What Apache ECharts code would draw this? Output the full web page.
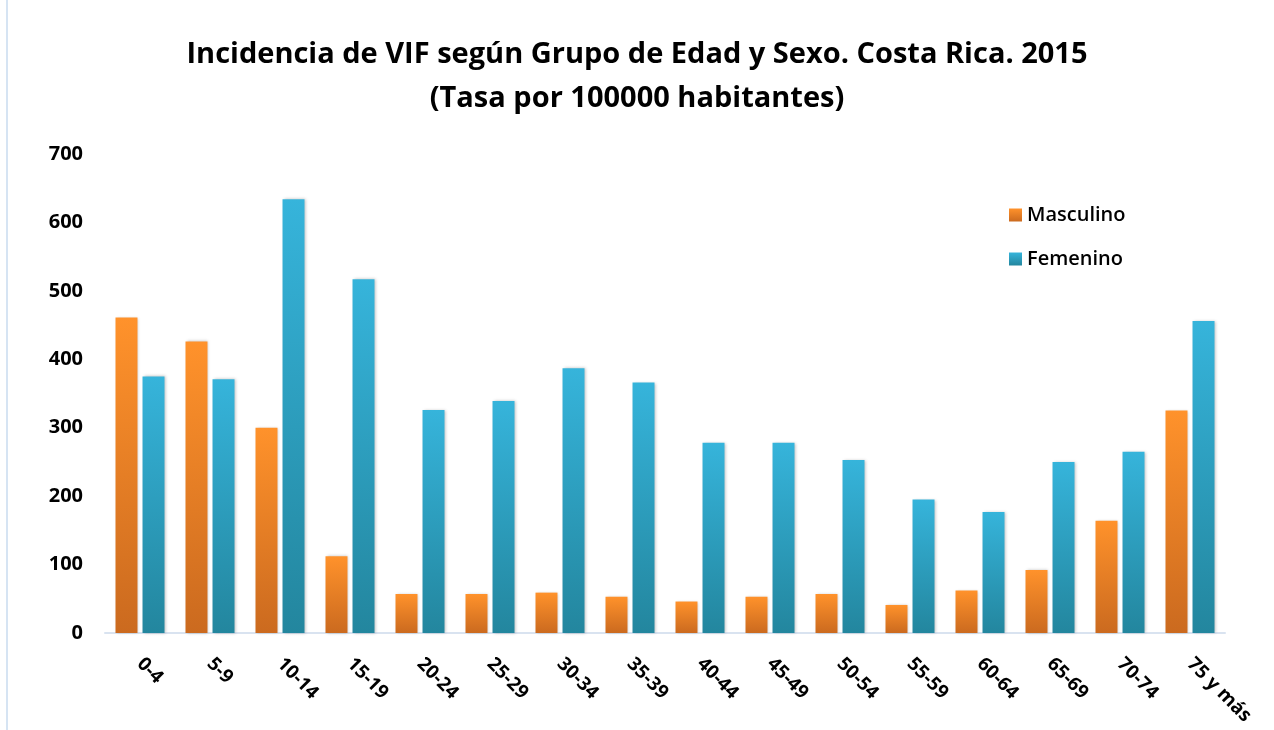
<!DOCTYPE html>
<html>
<head>
<meta charset="utf-8">
<script src="https://cdn.jsdelivr.net/npm/echarts@6/dist/echarts.min.js"></script>
<style>
  html, body { margin: 0; padding: 0; background: #fff; }
  #chart { position: absolute; left: 0; top: 0; width: 1274px; height: 730px; }
  #frame { position: absolute; left: 6px; top: 0; width: 2px; height: 730px; background: #d6e4f3; }
</style>
</head>
<body>
<div id="chart"></div>
<div id="frame"></div>
<script>
// grupos de edad
const categories = ["0-4", "5-9", "10-14", "15-19", "20-24", "25-29", "30-34", "35-39",
  "40-44", "45-49", "50-54", "55-59", "60-64", "65-69", "70-74", "75 y más"];
// tasas por 100000 habitantes
const masculino = [461, 426, 300, 112, 57, 57, 59, 53, 46, 53, 57, 41, 62, 92, 164, 325];
const femenino = [375, 371, 634, 517, 326, 339, 387, 366, 278, 278, 253, 195, 177, 250, 265, 456];
const yTicks = [0, 100, 200, 300, 400, 500, 600, 700];

const font = "Open Sans";

function gradient(top, bottom) {
  return new echarts.graphic.LinearGradient(0, 0, 0, 1, [
    { offset: 0, color: top },
    { offset: 1, color: bottom }
  ]);
}

const chart = echarts.init(document.getElementById("chart"));

const option = {
  backgroundColor: "#ffffff",
  animation: false,
  textStyle: { fontFamily: font },
  title: {
    text: "Incidencia de VIF según Grupo de Edad y Sexo. Costa Rica. 2015\n(Tasa por 100000 habitantes)",
    left: "center",
    top: 28,
    textStyle: {
      fontFamily: font,
      fontSize: 29,
      fontWeight: "bold",
      color: "#000",
      lineHeight: 44
    }
  },
  legend: {
    orient: "vertical",
    left: 1004,
    top: 200,
    itemWidth: 13,
    itemHeight: 13,
    itemGap: 24,
    icon: "rect",
    textStyle: { fontFamily: font, fontSize: 20, fontWeight: 600, color: "#000" },
    data: ["Masculino", "Femenino"]
  },
  grid: { left: 105, right: 49, top: 154, bottom: 97, containLabel: false },
  xAxis: {
    type: "category",
    data: categories,
    axisLine: { lineStyle: { color: "#d9e3f0", width: 2 } },
    axisTick: { show: false },
    axisLabel: {
      rotate: -45,
      align: "left",
      verticalAlign: "middle",
      margin: 28,
      interval: 0,
      fontFamily: font,
      fontSize: 19,
      fontWeight: "bold",
      color: "#000"
    }
  },
  yAxis: {
    type: "value",
    min: yTicks[0],
    max: yTicks[yTicks.length - 1],
    interval: 100,
    splitLine: { show: false },
    axisLine: { show: false },
    axisTick: { show: false },
    axisLabel: {
      margin: 22,
      fontFamily: font,
      fontSize: 20,
      fontWeight: "bold",
      color: "#000"
    }
  },
  series: [
    {
      name: "Masculino",
      type: "bar",
      data: masculino,
      barGap: "23%",
      barCategoryGap: "30%",
      itemStyle: {
        color: gradient("#ff922b", "#cb6a1f"),
        shadowColor: "rgba(0,0,0,0.25)",
        shadowBlur: 3,
        shadowOffsetX: 1
      }
    },
    {
      name: "Femenino",
      type: "bar",
      data: femenino,
      itemStyle: {
        color: gradient("#36b4db", "#23869e"),
        shadowColor: "rgba(0,0,0,0.25)",
        shadowBlur: 3,
        shadowOffsetX: 1
      }
    }
  ]
};

chart.setOption(option);
</script>
</body>
</html>
